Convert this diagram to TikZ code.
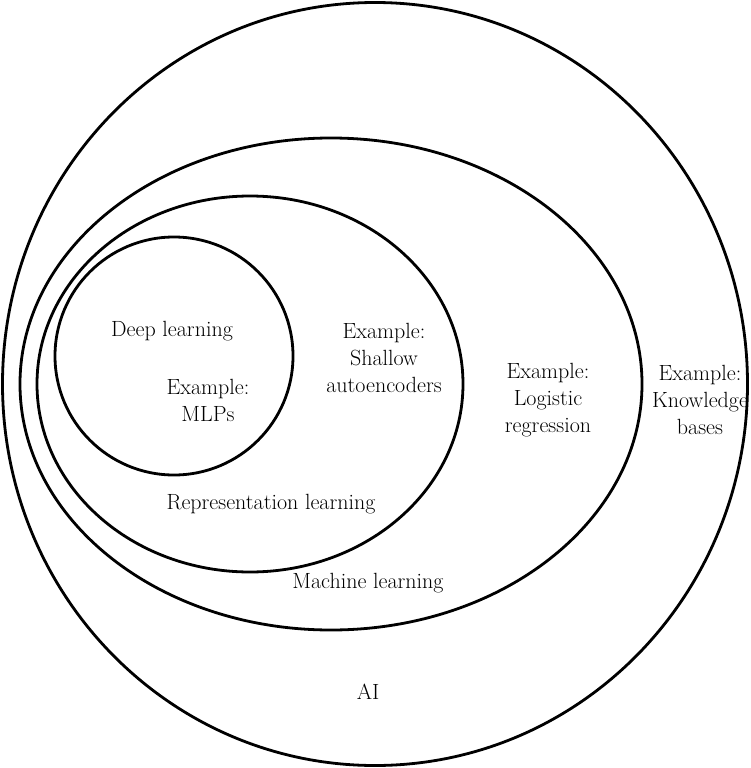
\documentclass[tikz,border=0pt]{standalone}
\usetikzlibrary{positioning}
\begin{document}
\begin{tikzpicture}[x=1pt,y=-1pt,
  set/.style={line width=2.8pt,black},
  lbl/.style={font=\fontsize{22}{27}\selectfont,align=center,inner sep=0pt}]
\useasboundingbox (0,0) rectangle (750,768);
% nested sets
\draw[set] (375,384) ellipse [x radius=372.5, y radius=381.5];
\draw[set] (331,384) ellipse [x radius=311, y radius=246];
\draw[set] (250,384) ellipse [x radius=213, y radius=188];
\draw[set] (174,356) circle [radius=119];
% labels
\node[lbl] (dl) at (172,331) {Deep learning};
\node[lbl] (mlp) at (208,400) {Example:\\MLPs};
\node[lbl] (sae) at (384,358) {Example:\\Shallow\\autoencoders};
\node[lbl] (lr) at (548,400) {Example:\\Logistic\\regression};
\node[lbl] (kb) at (700,400) {Example:\\Knowledge\\bases};
\node[lbl] (rl) at (271,504) {Representation learning};
\node[lbl] (ml) at (368,583) {Machine learning};
\node[lbl] (ai) at (368,692) {AI};
\end{tikzpicture}
\end{document}
